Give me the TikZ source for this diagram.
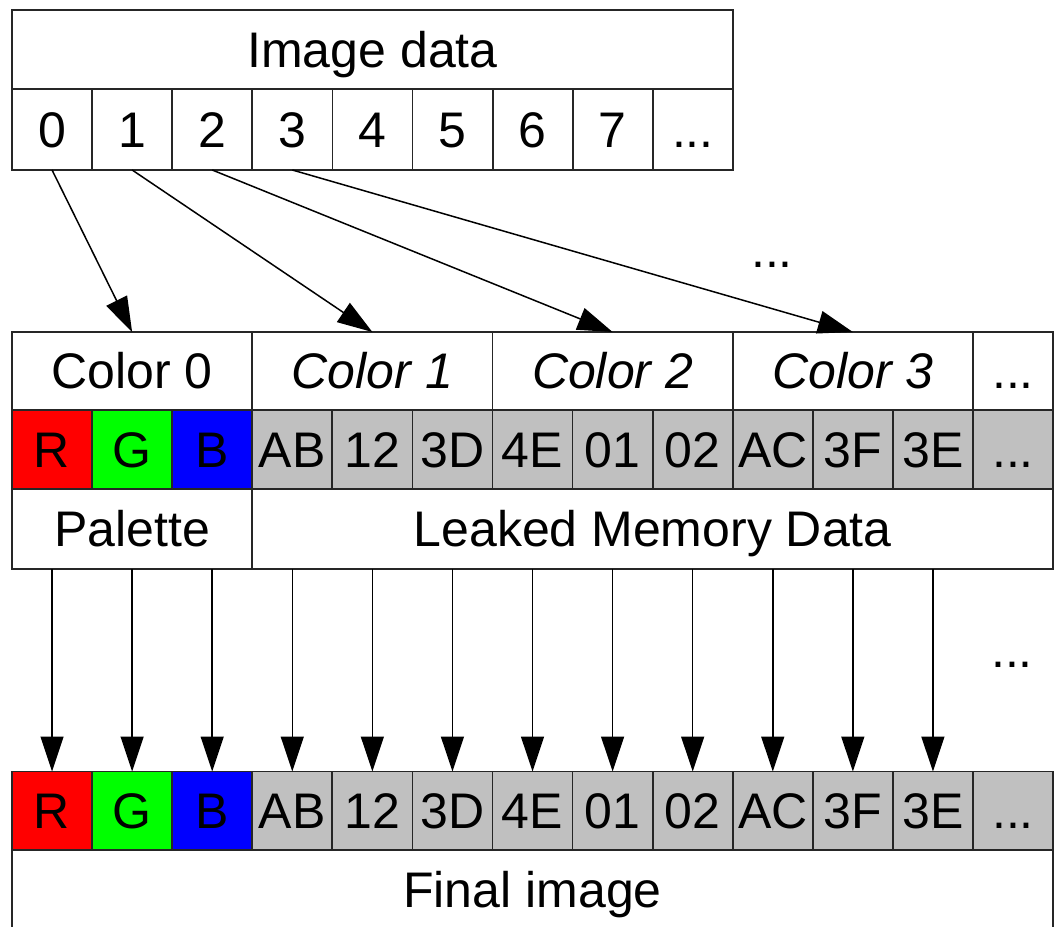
\documentclass[tikz,border=0pt]{standalone}
\usepackage{fontspec}
\setmainfont{Liberation Sans}
\usetikzlibrary{arrows.meta}
\definecolor{cellgray}{HTML}{C0C0C0}
\definecolor{linecol}{HTML}{262626}
\definecolor{pr}{HTML}{FF0000}
\definecolor{pg}{HTML}{00FF00}
\definecolor{pb}{HTML}{0000FF}
\begin{document}
\begin{tikzpicture}[x=1pt,y=-1pt,
  box/.style={draw=linecol, line width=1.8pt, rectangle, inner sep=0pt, outer sep=0pt,
    text height=35pt, text depth=0pt, font=\fontsize{50}{58}\selectfont, text=black},
  idx/.style={box, minimum width=80.1pt, minimum height=81pt},
  bytecell/.style={box, minimum width=80.08pt, minimum height=79pt, fill=cellgray},
  arr/.style={draw=black, line width=1.5pt, -{Triangle[length=35pt,width=23pt]}},
  dotsnode/.style={inner sep=0pt, text height=35pt, text depth=0pt, font=\fontsize{50}{58}\selectfont}
]
\useasboundingbox (0,0) rectangle (1056,926);
\clip (0,0) rectangle (1056,926);
\fill[white] (0,0) rectangle (1056,926);

% Image data
\node[box, minimum width=721pt, minimum height=79pt] (img) at (372.5,49.5) {Image data};
\node[idx] (d0) at (52.05,129.5) {0};
\node[idx] (d1) at (132.15,129.5) {1};
\node[idx] (d2) at (212.25,129.5) {2};
\node[idx] (d3) at (292.35,129.5) {3};
\node[idx] (d4) at (372.45,129.5) {4};
\node[idx] (d5) at (452.55,129.5) {5};
\node[idx] (d6) at (532.65,129.5) {6};
\node[idx] (d7) at (612.75,129.5) {7};
\node[idx] (d8) at (692.85,129.5) {...};

% Colors row
\node[box, minimum width=240.24pt, minimum height=78pt] (c0) at (132.12,371) {Color 0};
\node[box, minimum width=240.24pt, minimum height=78pt] (c1) at (372.36,371) {\itshape Color 1};
\node[box, minimum width=240.24pt, minimum height=78pt] (c2) at (612.6,371) {\itshape Color 2};
\node[box, minimum width=240.24pt, minimum height=78pt] (c3) at (852.84,371) {\itshape Color 3};
\node[box, minimum width=80.08pt, minimum height=78pt] (c4) at (1013,371) {...};

% Memory row
\node[bytecell, fill=pr] (m0) at (52.04,449.5) {R};
\node[bytecell, fill=pg] (m1) at (132.12,449.5) {G};
\node[bytecell, fill=pb] (m2) at (212.2,449.5) {B};
\foreach \t [count=\i from 3] in {AB,12,3D,4E,01,02,AC,3F,3E}
  \node[bytecell] (m\i) at ({12+80.08*\i+40.04},449.5) {\t};
\node[bytecell] (m12) at (1013,449.5) {...};

% Labels row
\node[box, minimum width=240.24pt, minimum height=80pt] (pal) at (132.12,529) {Palette};
\node[box, minimum width=800.76pt, minimum height=80pt] (lk) at (652.62,529) {Leaked Memory Data};

% Final image row
\node[bytecell, fill=pr] (f0) at (52.04,811) {R};
\node[bytecell, fill=pg] (f1) at (132.12,811) {G};
\node[bytecell, fill=pb] (f2) at (212.2,811) {B};
\foreach \t [count=\i from 3] in {AB,12,3D,4E,01,02,AC,3F,3E}
  \node[bytecell] (f\i) at ({12+80.08*\i+40.04},811) {\t};
\node[bytecell] (f12) at (1013,811) {...};
\node[box, minimum width=1041pt, minimum height=80pt] (fin) at (532.5,890) {Final image};

% Index -> colour arrows
\draw[arr] (d0.south) -- (c0.north);
\draw[arr] (d1.south) -- (c1.north);
\draw[arr] (d2.south) -- (c2.north);
\draw[arr] (d3.south) -- (c3.north);
\node[dotsnode] (tdots) at (772,250) {...};

% Palette/memory -> final image arrows
\foreach \i in {0,...,11}
  \draw[arr] (m\i |- pal.south) -- (f\i.north);
\node[dotsnode] (bdots) at (1012,650) {...};
\end{tikzpicture}
\end{document}
